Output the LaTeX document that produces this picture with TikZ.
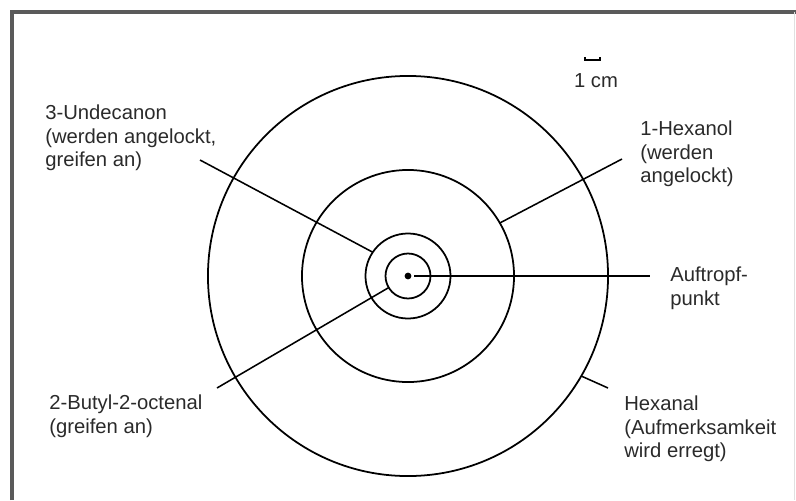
\documentclass[tikz,border=0pt]{standalone}
\usepackage{fontspec}
\setmainfont{Liberation Sans}
\usetikzlibrary{positioning}
\definecolor{framegray}{HTML}{5A5A5A}
\definecolor{textgray}{HTML}{2A2A2A}
\tikzset{
	ringnode/.style={
			circle,
			draw=black,
			line width=1.25pt,
			inner sep=0pt,
			outer sep=0pt
		},
	dropnode/.style={
			circle,
			fill=black,
			inner sep=0pt,
			minimum size=0.17cm
		},
	labelnode/.style={
			align=left,
			inner sep=0pt,
			text=textgray,
			font=\fontsize{14.4}{16.6}\selectfont,
			anchor=north west
		},
	leaderline/.style={
			draw=black,
			line width=1.1pt
		}
}

\begin{document}
\begin{tikzpicture}[x=0.025cm, y=-0.025cm]
\useasboundingbox (0,0) rectangle (796,500);
\draw[framegray, line width=2.2pt] (12,500) -- (12,12) -- (796,12);
\draw[black!12, line width=0.6pt] (794,12) -- (794,500);

\node[ringnode, minimum size=10cm] (r1) at (408,276) {};
\node[ringnode, minimum size=5.3cm] (r2) at (408,276) {};
\node[ringnode, minimum size=2.125cm] (r3) at (408,276) {};
\node[ringnode, minimum size=1.125cm] (r4) at (408,276) {};
\node[dropnode] (drop) at (408,276) {};

\node[labelnode] (undecanon) at (45,105) {3-Undecanon\\(werden angelockt,\\greifen an)};
\node[labelnode] (hexanol) at (640,121) {1-Hexanol\\(werden\\angelockt)};
\node[labelnode] (auftropf) at (670,267) {Auftropf-\\punkt};
\node[labelnode] (hexanal) at (624,396) {Hexanal\\(Aufmerksamkeit\\wird erregt)};
\node[labelnode] (butyl) at (49,395) {2-Butyl-2-octenal\\(greifen an)};
\node[labelnode, anchor=base] (cm) at (596,87) {1 cm};

\coordinate (barl) at (585,60);
\coordinate (barr) at (600,60);
\draw[line width=1.1pt] (barl) ++(0,-3) -- (barl) -- (barr) -- ++(0,-3);

\coordinate (undecanonend) at (200,160);
\coordinate (butylend) at (217,388);
\coordinate (auftropfend) at (650,276);
\coordinate (hexanolend) at (622,159);
\coordinate (hexanalend) at (608,388);

\draw[leaderline] (undecanonend) -- (r3.146);
\draw[leaderline] (butylend) -- (r4.211);
\draw[leaderline, shorten <=2pt] (drop) -- (auftropfend);
\draw[leaderline] (hexanolend) -- (r2.30);
\draw[leaderline] (r1.-30) -- (hexanalend);
\end{tikzpicture}
\end{document}
